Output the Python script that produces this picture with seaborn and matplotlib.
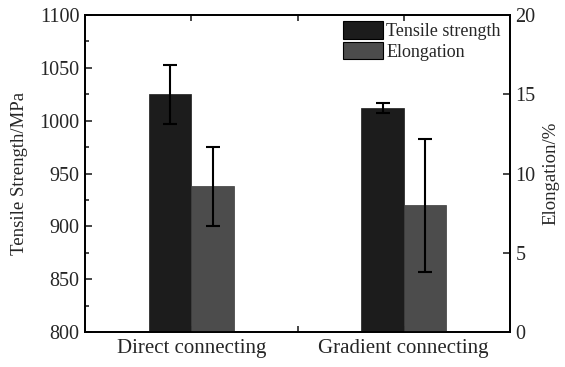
import matplotlib
matplotlib.use("Agg")
import matplotlib.pyplot as plt
import seaborn as sns
import pandas as pd
import numpy as np
from matplotlib.ticker import MultipleLocator
from matplotlib.patches import Patch

categories = ["Direct connecting", "Gradient connecting"]
series = ["Tensile strength", "Elongation"]
tensile = [1025, 1012]
tensile_err = [28, 4.5]
elongation = [9.2, 8.0]
elongation_err = [2.5, 4.2]
colors = ["#1c1c1c", "#4c4c4c"]

sns.set_theme(style="ticks")
plt.rcParams["font.family"] = ["Liberation Serif", "DejaVu Serif"]

fig = plt.figure(figsize=(5.65, 3.67), dpi=100)
ax = fig.add_axes([85/565, 1-332/367, (510-85)/565, (332-15)/367])
ax2 = ax.twinx()

df_ts = pd.DataFrame({"cat": categories, "val": tensile, "series": series[0]})
df_el = pd.DataFrame({"cat": categories, "val": elongation, "series": series[1]})

pal = dict(zip(series, colors))
sns.barplot(data=df_ts, x="cat", y="val", hue="series", hue_order=series,
            order=categories, palette=pal, width=0.4, errorbar=None, dodge=True,
            ax=ax, legend=False, edgecolor="#1c1c1c", linewidth=0.5, saturation=1)
sns.barplot(data=df_el, x="cat", y="val", hue="series", hue_order=series,
            order=categories, palette=pal, width=0.4, errorbar=None, dodge=True,
            ax=ax2, legend=False, edgecolor="#3a3a3a", linewidth=0.5, saturation=1)

# Error bars at bar centres
for a, vals, errs in [(ax, tensile, tensile_err), (ax2, elongation, elongation_err)]:
    xs = sorted(p.get_x() + p.get_width()/2 for p in a.patches if p.get_height() > 0)
    a.errorbar(xs, vals, yerr=errs, fmt="none", ecolor="black", elinewidth=1.5,
               capsize=5, capthick=1.5)

ax.set_xlim(-0.5, 1.5)
ax.set_ylim(800, 1100)
ax2.set_ylim(0, 20)
ax.yaxis.set_major_locator(MultipleLocator(50))
ax.yaxis.set_minor_locator(MultipleLocator(25))
ax2.yaxis.set_major_locator(MultipleLocator(5))
ax.set_xticks([0, 1])
ax.set_xticks([0.5], minor=True)
ax.set_xticklabels(categories)

ax.set_xlabel("")
ax2.set_xlabel("")
ax.set_ylabel("Tensile Strength/MPa", fontsize=13.5, labelpad=8)
ax2.set_ylabel("Elongation/%", fontsize=13.5, labelpad=5)

ax.tick_params(axis="y", which="major", direction="in", length=5, width=1.2, labelsize=14.5, pad=4)
ax.tick_params(axis="y", which="minor", direction="in", length=3, width=1.2)
ax.tick_params(axis="x", which="both", direction="in", length=4, width=1.2, labelsize=15,
               top=True, pad=5)
ax2.tick_params(axis="y", which="major", direction="in", length=5, width=1.2, labelsize=14.5, pad=4)

for a in (ax, ax2):
    for s in a.spines.values():
        s.set_linewidth(1.3)
        s.set_color("black")

handles = [Patch(facecolor=c, edgecolor="black", linewidth=0.8) for c in colors]
ax2.legend(handles, series, loc="upper right", bbox_to_anchor=(0.995, 1.003), frameon=False,
           fontsize=13, handlelength=2.2, handleheight=1.1, handletextpad=0.2,
           labelspacing=0.1, borderaxespad=0.0)

fig.savefig("out.png", dpi=100)
